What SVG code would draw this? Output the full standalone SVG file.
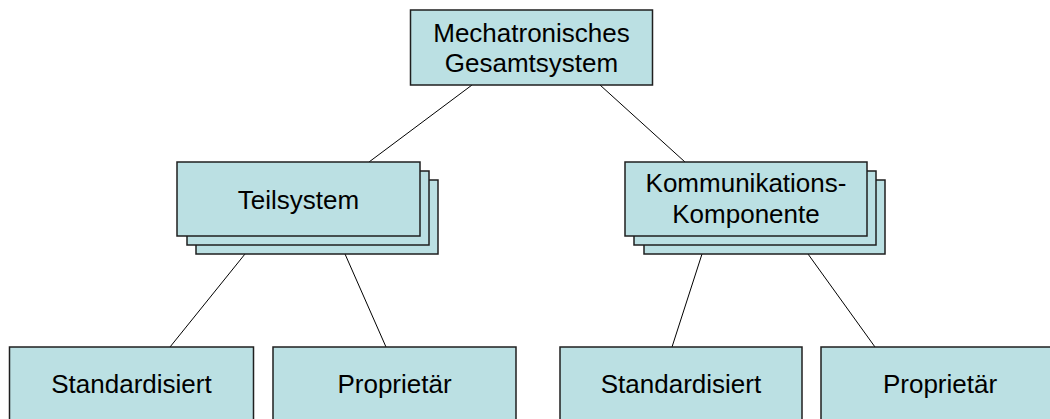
<svg xmlns="http://www.w3.org/2000/svg" width="1050" height="419" viewBox="0 0 1050 419">
  <style>
    .box { fill: #BBE0E3; stroke: #1f1f1f; stroke-width: 1.5; }
    .lbl { font-family: "Liberation Sans", Arial, sans-serif; font-size: 26px; fill: #000; text-anchor: middle; }
    .link { stroke: #000; stroke-width: 1; fill: none; }
  </style>

  <!-- connectors -->
  <g id="connectors">
    <line class="link" x1="472" y1="85" x2="369" y2="162"/>
    <line class="link" x1="600" y1="85" x2="685" y2="162"/>
    <line class="link" x1="245" y1="254" x2="170" y2="347"/>
    <line class="link" x1="345" y1="254" x2="386" y2="347"/>
    <line class="link" x1="702" y1="254" x2="672" y2="347"/>
    <line class="link" x1="808" y1="254" x2="875" y2="347"/>
  </g>

  <!-- root -->
  <g id="gesamtsystem">
    <rect class="box" x="410.5" y="10" width="242" height="75"/>
    <text class="lbl" x="531.5" y="42">Mechatronisches</text>
    <text class="lbl" x="531.5" y="72">Gesamtsystem</text>
  </g>

  <!-- stacked subsystem (three sheets) -->
  <g id="teilsystem">
    <rect class="box" x="196" y="180" width="242" height="74"/>
    <rect class="box" x="187" y="171" width="242" height="74"/>
    <rect class="box" x="177" y="162" width="243" height="74"/>
    <text class="lbl" x="298.5" y="209">Teilsystem</text>
  </g>

  <!-- stacked communication component (three sheets) -->
  <g id="kommunikation">
    <rect class="box" x="644" y="180" width="241" height="74"/>
    <rect class="box" x="634" y="171" width="242" height="74"/>
    <rect class="box" x="625" y="162" width="242" height="74"/>
    <text class="lbl" x="746" y="192">Kommunikations-</text>
    <text class="lbl" x="746" y="223">Komponente</text>
  </g>

  <!-- leaves -->
  <g id="standard-1">
    <rect class="box" x="9.5" y="347" width="244" height="90"/>
    <text class="lbl" x="131.5" y="393">Standardisiert</text>
  </g>
  <g id="proprietaer-1">
    <rect class="box" x="273" y="347" width="243" height="90"/>
    <text class="lbl" x="394.5" y="393">Proprietär</text>
  </g>
  <g id="standard-2">
    <rect class="box" x="560" y="347" width="242" height="90"/>
    <text class="lbl" x="681" y="393">Standardisiert</text>
  </g>
  <g id="proprietaer-2">
    <rect class="box" x="821" y="347" width="243" height="90"/>
    <text class="lbl" x="940" y="393">Proprietär</text>
  </g>
</svg>
